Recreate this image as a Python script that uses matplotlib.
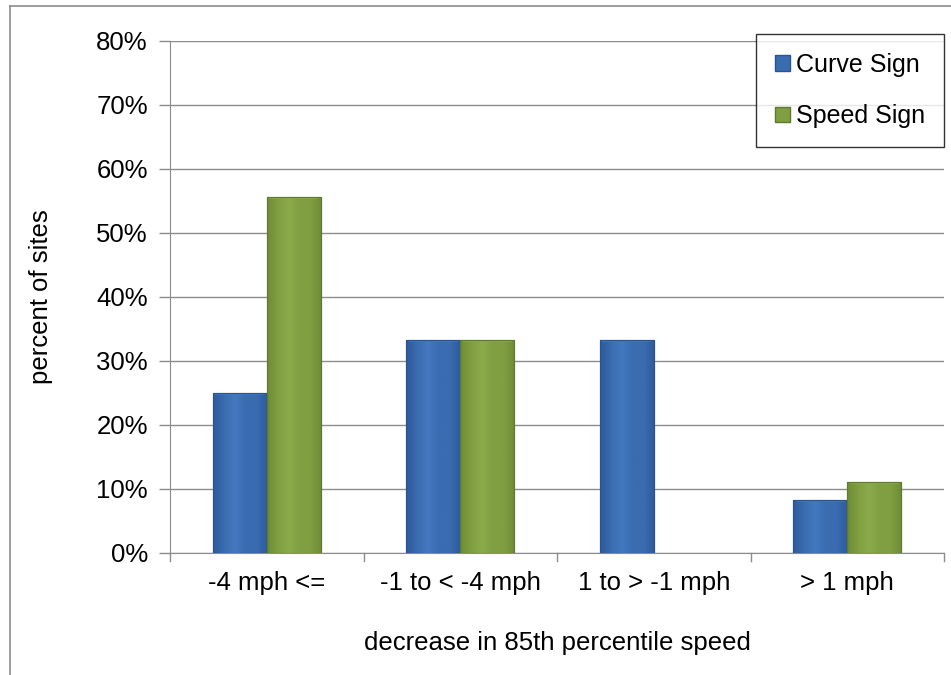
import numpy as np
import matplotlib
matplotlib.use("Agg")
import matplotlib.pyplot as plt
from matplotlib.colors import LinearSegmentedColormap
from matplotlib.lines import Line2D
from matplotlib.patches import Patch

categories = ["-4 mph <=", "-1 to < -4 mph", "1 to > -1 mph", "> 1 mph"]
curve_sign = [25.0, 33.3, 33.3, 8.3]
speed_sign = [55.6, 33.3, 0.0, 11.1]
series_names = ["Curve Sign", "Speed Sign"]
y_ticks = [0, 10, 20, 30, 40, 50, 60, 70, 80]

plt.rcParams['font.family'] = ['Liberation Sans', 'DejaVu Sans']
FS = 18.5

W, H = 951, 675
fig = plt.figure(figsize=(W / 100, H / 100), dpi=100)
ax = fig.add_axes([170 / W, 1 - 553 / H, (944 - 170) / W, (553 - 41) / H])

x = np.arange(len(categories))
bw = 0.28
blue_face, blue_edge = "#3A6CB0", "#2A5390"
green_face, green_edge = "#809F42", "#5E7A2C"

bars_c = ax.bar(x - bw / 2, curve_sign, bw, color=blue_face, edgecolor=blue_edge, linewidth=0.8, zorder=3)
bars_s = ax.bar(x + bw / 2, speed_sign, bw, color=green_face, edgecolor=green_edge, linewidth=0.8, zorder=3)

def shade(bars, light, mid, dark):
    cmap = LinearSegmentedColormap.from_list("g", [dark, mid, light, mid, mid, dark])
    grad = np.linspace(0, 1, 64).reshape(1, -1)
    for b in bars:
        if b.get_height() <= 0:
            b.set_visible(False)
            continue
        x0, y0 = b.get_x(), b.get_y()
        w, h = b.get_width(), b.get_height()
        im = ax.imshow(grad, cmap=cmap, aspect="auto", extent=[x0, x0 + w, y0, y0 + h],
                       zorder=3.5, interpolation="bicubic")
        im.set_clip_path(b)
        ax.fill_between([x0 + w * 0.05, x0 + w * 0.95], y0 + h - 0.3, y0 + h,
                        color=light, alpha=0.7, zorder=3.6, linewidth=0)
        ax.add_patch(plt.Rectangle((x0, y0), w, h, fill=False, edgecolor=b.get_edgecolor(),
                                   linewidth=0.8, zorder=3.7))

shade(bars_c, "#4479C0", "#3A6CB0", "#2E5B9A")
shade(bars_s, "#8BAB4B", "#809F42", "#6E8C36")

ax.set_xlim(-0.5, len(categories) - 0.5)
ax.set_ylim(0, 80)
ax.set_yticks(y_ticks)
ax.set_yticklabels([f"{v}%" for v in y_ticks], fontsize=FS)
ax.set_xticks(x)
ax.set_xticklabels(categories, fontsize=FS)
ax.tick_params(axis="x", length=0, pad=13)
ax.tick_params(axis="y", length=8, width=1, color="#8C8C8C", pad=8)
for xb in np.arange(-0.5, len(categories), 1.0):
    ax.plot([xb, xb], [0, -1.2], color="#8C8C8C", lw=1, clip_on=False, zorder=4)

ax.grid(axis="y", color="#8C8C8C", linewidth=1, zorder=0)
ax.set_axisbelow(True)
for s in ["top", "right"]:
    ax.spines[s].set_visible(False)
ax.spines["left"].set_color("#8C8C8C")
ax.spines["bottom"].set_color("#8C8C8C")

ax.set_ylabel("percent of sites", fontsize=FS, labelpad=31)
ax.set_xlabel("decrease in 85th percentile speed", fontsize=FS, labelpad=26)

handles = [Patch(facecolor=blue_face, edgecolor=blue_edge), Patch(facecolor=green_face, edgecolor=green_edge)]
leg = ax.legend(handles, series_names, loc="upper right", bbox_to_anchor=(1.0, 1.0 + 7 / 512),
                fontsize=18, frameon=True, fancybox=False, edgecolor="black",
                handlelength=0.6, handleheight=0.6, handletextpad=0.25, labelspacing=1.1,
                borderpad=0.75, borderaxespad=0)
leg.get_frame().set_linewidth(1)

fig.add_artist(Line2D([9.5 / W, 9.5 / W], [0, 1 - 6 / H], color="#8C8C8C", lw=1.2, transform=fig.transFigure))
fig.add_artist(Line2D([9.5 / W, 1], [1 - 6 / H, 1 - 6 / H], color="#8C8C8C", lw=1.2, transform=fig.transFigure))

fig.savefig("out.png", dpi=100)
